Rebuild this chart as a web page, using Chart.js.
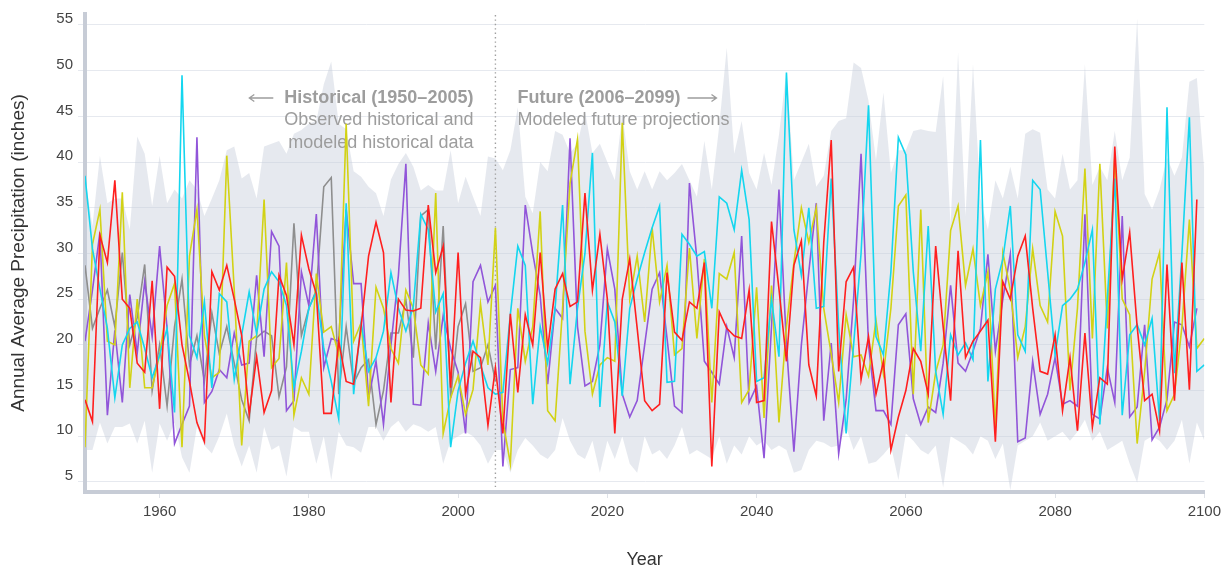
<!DOCTYPE html>
<html>
<head>
<meta charset="utf-8">
<script src="https://cdn.jsdelivr.net/npm/chart.js@4/dist/chart.umd.min.js"></script>
<style>
  html, body { margin: 0; padding: 0; background: #fff; }
  #wrap { width: 1226px; height: 571px; position: relative; }
</style>
</head>
<body>
<div id="wrap"><canvas id="precipChart"></canvas></div>
<script>
// years 1950..2100
let years = Array.from({ length: 151 }, (_, i) => 1950 + i);
let xTicks = [1960, 1980, 2000, 2020, 2040, 2060, 2080, 2100];
let splitYear = 2005;

// model runs (inches)
let redModel = [
  14, 11.6, 32, 29, 38, 25, 24, 18, 17, 27,
  13, 28.5, 27.5, 20, 16, 11.5, 9.4, 28, 26, 28.7,
  25, 21, 12.4, 18.7, 12.6, 15, 27.6, 25.4, 20, 32,
  28.3, 25.6, 12.5, 12.5, 20.4, 16, 15.7, 22, 29.7, 33.4,
  30.1, 13.7, 25, 23.8, 23.7, 24, 35.3, 27.9, 30.8, 15.3,
  30.1, 14.6, 19.3, 18.6, 11.2, 17.5, 10.3, 23.4, 14.8, 23.3,
  20, 30.1, 19.6, 26.1, 27.8, 24.2, 24.7, 36.6, 26, 32.1,
  25, 10.3, 25, 29.4, 21.8, 13.9, 12.8, 13.5, 27.9, 21.4,
  20.5, 24.7, 24, 29, 6.7, 23.6, 21.8, 21, 20.7, 26,
  13.7, 13.9, 33.5, 26.1, 18.2, 28.7, 31.4, 17.8, 14.4, 31.2,
  42.4, 17.1, 26.9, 28.5, 16.2, 20.9, 14.6, 18.2, 8.5, 12.1,
  15, 19.6, 18.2, 14.6, 30.8, 22, 13.9, 30.3, 18.6, 20.4,
  21.5, 22.7, 9.4, 26.9, 25, 29.7, 31.9, 24, 17.1, 16.8,
  21.1, 12.8, 18.6, 10.6, 21.3, 11, 16.4, 15.7, 41.7, 27.2,
  32.3, 22, 13.9, 14.6, 10.6, 28.8, 13.9, 29, 15.1, 35.9
];
let yellowModel = [
  8.8, 31, 34.8, 20.4, 20, 36.7, 15.3, 25, 15.3, 15.3,
  18.9, 24.3, 26.7, 8.8, 29.7, 34.8, 21, 16.4, 17, 40.7,
  26, 9, 20.4, 21, 35.9, 17.5, 18.5, 29, 12.3, 16.4,
  14.6, 27.8, 21.4, 22, 18.9, 44.2, 20.4, 22.4, 13.3, 26.3,
  24, 19.6, 18, 26, 24, 17.8, 16.8, 36.6, 10.3, 14.2,
  16.6, 12.4, 15.1, 24.5, 17.8, 32.8, 11.7, 7, 24, 18.2,
  22, 34.6, 12.8, 11.7, 24, 37.7, 42.5, 21.5, 14.6, 17.8,
  18.6, 18.2, 44.3, 25, 29.7, 22.5, 32.8, 24.7, 28.7, 18.9,
  19.6, 30.6, 20.7, 29.4, 13.7, 27.8, 27.2, 30.1, 13.7, 15.1,
  26.3, 12, 26.5, 11.5, 22, 29, 35, 31.2, 35, 24,
  19, 13.7, 23.3, 18.7, 18.9, 16.6, 22.7, 16.8, 24, 35.2,
  36.4, 14.6, 34.8, 11.5, 17, 20, 32.5, 35.2, 26.5, 30.5,
  24.3, 28, 11, 30.1, 26, 18.6, 22, 30.5, 24.3, 22.5,
  34.6, 31.9, 15, 24, 39.3, 20.7, 39.8, 21.8, 40.6, 25,
  23.3, 9.2, 17, 27.2, 30.1, 12.8, 14.6, 22, 33.7, 19.6,
  20.7
];
let cyanModel = [
  38.5, 30.5, 26.1, 21.8, 14.2, 20, 21.8, 22.5, 19.6, 16.4,
  18.9, 21.8, 12.6, 49.5, 21, 18.6, 24.7, 15.3, 25.6, 24.7,
  16.2, 21.1, 25.8, 21.2, 26.1, 28, 26.9, 24.3, 15.3, 19.3,
  24, 25.8, 19.6, 16, 11.9, 35.5, 14.6, 22.5, 17.1, 18.6,
  21.5, 27.9, 24, 21.5, 24.2, 34.3, 32.6, 23.6, 25.6, 8.8,
  15, 18, 20.4, 17.8, 15.3, 14.6, 14.8, 23.3, 30.8, 28.7,
  13.5, 22, 18, 24, 35.3, 15.7, 24, 30, 41, 13.2,
  24.7, 22.5, 14.4, 24, 27.2, 30.1, 32.8, 35.2, 15.9, 16,
  32.1, 31, 29.7, 30.2, 24, 36.2, 35.5, 32.6, 39.1, 33.7,
  16, 16.4, 25, 18.7, 49.8, 32.6, 27.6, 35, 24, 24.2,
  38.2, 22, 10.3, 20, 30, 46.2, 20.9, 18.9, 28, 42.7,
  40.8, 28, 19.3, 33, 17.1, 12.4, 21.1, 18.9, 20.2, 18.4,
  42.4, 16, 26.1, 29.4, 35.2, 21.1, 19.3, 38, 37, 28,
  18.9, 24.3, 25, 26.1, 29, 32.6, 11.3, 25, 38.2, 12.3,
  21.1, 22.2, 20, 22.9, 11.7, 46, 16.9, 30, 44.9, 17.1,
  17.8
];
let purpleModel = [
  20.4, 26, 32.3, 12.3, 21.6, 13.7, 25.5, 19.1, 26.9, 20.9,
  30.8, 21.8, 9.2, 11.3, 13.3, 42.7, 13.7, 14.9, 17.3, 16.4,
  21.3, 17.8, 18, 27.6, 18.7, 32.4, 30.8, 12.8, 13.9, 28,
  24.3, 34.3, 17.5, 20.7, 20.4, 34.8, 26.7, 26.7, 14.2, 18.2,
  11.3, 20, 27.6, 39.8, 13.5, 13.4, 22.4, 17.1, 23.2, 19.6,
  17, 10.3, 26.9, 28.7, 24.7, 26.5, 6.7, 17.3, 17.5, 35.3,
  30, 25.4, 15.7, 24, 22.9, 42.6, 22, 15.5, 16, 20,
  30.5, 26.1, 14.6, 12.1, 13.9, 20, 26.1, 27.9, 20.7, 13.3,
  12.6, 37.7, 29.4, 18.2, 17, 15.7, 22, 18.6, 31.9, 13.7,
  15.5, 7.6, 22, 37, 20, 8.3, 20, 28, 35.5, 11.7,
  20.2, 8.1, 14, 25, 40.9, 20, 12.8, 12.8, 11.3, 22.2,
  23.4, 14.1, 11.3, 13.2, 12.6, 18, 26.5, 18, 17.1, 19.3,
  21.8, 29.9, 19.3, 25, 29.9, 9.4, 9.8, 18.2, 12.4, 14.6,
  18.6, 13.5, 13.9, 13.3, 34.3, 12.4, 11.9, 17.5, 13.7, 34.1,
  12.1, 13.2, 22.2, 9.6, 11, 14, 22.5, 22.2, 19.8, 24
];
// observed, 1950..2005
let observed = [
  28.7, 21.8, 24, 26, 22, 30.1, 20, 23, 28.8, 15,
  20, 13.3, 22, 27.2, 17.8, 21, 16, 23.5, 19, 22,
  18, 14, 11.7, 20.8, 21.5, 21, 14.3, 17.6, 33.3, 21,
  24, 26, 37.3, 38.3, 14.6, 22, 15.8, 17.5, 18.4, 11.3,
  15, 21.3, 21.3, 24.9, 18.6, 34.1, 34.8, 19.5, 33, 14.2,
  22, 24.5, 17.1, 17.5, 20, 16
];
// range of all models
let rangeHigh = [
  38.4, 33, 40.7, 35.5, 36, 36, 32.6, 42.8, 40.9, 35.2,
  40.7, 35.5, 37, 36, 38, 37, 34.1, 36, 38, 41.3,
  41.7, 38.2, 38.8, 36, 41.7, 42, 42.3, 40.9, 43.1, 43.5,
  44.2, 44.5, 48.5, 51, 44.2, 43.6, 39, 38.4, 37.3, 36.6,
  34.1, 38.1, 39.8, 41, 39.5, 36.9, 37.5, 36.9, 36.9, 41.3,
  35.5, 38.4, 36.2, 34.1, 40.6, 40.4, 39.1, 41.3, 46, 36.2,
  34.4, 40, 39, 43.4, 43, 41, 42, 45.6, 41, 42,
  40, 38, 45.3, 39, 37, 39, 37, 39, 38, 38.8,
  39.8, 38, 36.2, 42.3, 37, 44, 52.5, 40.9, 44.5, 38.8,
  37, 41, 37.5, 43, 50, 38, 40, 42, 37.3, 38.5,
  43.4, 44.5, 44.8, 50.9, 50.3, 46.7, 40.2, 47.6, 38.8, 41.3,
  41.3, 43.4, 43.6, 43.4, 43.3, 49.4, 33, 52, 34.1, 50.7,
  36, 32.6, 38, 36, 39.5, 36, 43.1, 43.6, 43.2, 37,
  36, 40.9, 37, 38, 50.7, 37.5, 39.5, 38, 43.4, 38,
  40.5, 55.7, 36.5, 34.8, 37, 40.5, 38.5, 40.5, 48.8, 49.2,
  39
];
let rangeLow = [
  8.5, 8.5, 11.5, 9.2, 11, 11, 11.4, 9.2, 11.7, 6,
  11.4, 9.5, 11.5, 7.7, 6, 11, 9, 8.1, 10, 12.5,
  9, 6.7, 9, 6, 11, 8.5, 9, 5.6, 11, 10.5,
  10.5, 7, 10, 5.2, 10.5, 9, 8.8, 8.2, 11, 11,
  9.5, 11, 11.7, 10.5, 11.3, 11, 10.5, 11, 7, 9.5,
  10, 10.5, 10, 9, 7, 8.5, 8.5, 6, 8.5, 9.8,
  9, 8, 7.5, 8.5, 12, 9.5, 8, 7.5, 9.5, 6,
  9.5, 7.5, 10, 7, 6, 10, 8, 8.5, 7.5, 9,
  11, 8, 8.5, 8, 7.5, 10, 7, 9, 8, 10,
  9, 9.5, 8.5, 9, 8.5, 6, 6.3, 8.5, 9.5, 9.3,
  8.8, 9, 11, 8.5, 10, 7, 7.2, 8, 9, 5.2,
  10.3, 9.5, 8.5, 8, 9, 4.4, 10, 9.5, 9, 8,
  10, 9.5, 7.5, 9.2, 4.1, 9, 9.5, 10, 11.5, 9.5,
  10, 10.5, 9.5, 10.5, 11.8, 9.5, 10.5, 8.5, 9, 9.5,
  7, 4.9, 9.5, 10, 9.5, 8.5, 9.5, 11.8, 7, 11.5,
  9.5
];

let fontFamily = '"Liberation Sans", Helvetica, Arial, sans-serif';
let noteColor = '#9d9d9d';

function toPoints(values) {
  return values.map((v, i) => ({ x: years[i], y: v }));
}

function lineSet(label, values, color, order) {
  return {
    label: label,
    data: toPoints(values),
    borderColor: color,
    borderWidth: 1.6,
    pointRadius: 0,
    tension: 0,
    fill: false,
    order: order
  };
}

function drawArrow(ctx, x1, x2, y) {
  let dir = x2 > x1 ? 1 : -1;
  ctx.beginPath();
  ctx.moveTo(x1, y);
  ctx.lineTo(x2, y);
  ctx.moveTo(x2 - dir * 5, y - 3.5);
  ctx.lineTo(x2, y);
  ctx.lineTo(x2 - dir * 5, y + 3.5);
  ctx.stroke();
}

// dotted split line + the two period notes, drawn right after the range band
const periodNotes = {
  id: 'periodNotes',
  afterDatasetDraw(chart, args) {
    if (args.index !== 0) return;
    const { ctx, chartArea, scales } = chart;
    const xs = scales.x.getPixelForValue(splitYear);
    const top = chartArea.top;

    ctx.save();
    ctx.strokeStyle = '#a0a0a0';
    ctx.lineWidth = 1.4;
    ctx.setLineDash([1.4, 3]);
    ctx.beginPath();
    ctx.moveTo(xs, top + 1);
    ctx.lineTo(xs, chartArea.bottom - 5);
    ctx.stroke();
    ctx.setLineDash([]);

    ctx.fillStyle = noteColor;
    ctx.strokeStyle = noteColor;
    ctx.lineWidth = 1.3;
    ctx.textBaseline = 'middle';

    // left note
    let rx = xs - 22;
    ctx.textAlign = 'right';
    ctx.font = 'bold 18px ' + fontFamily;
    ctx.fillText('Historical (1950–2005)', rx, top + 84);
    let w = ctx.measureText('Historical (1950–2005)').width;
    drawArrow(ctx, rx - w - 11, rx - w - 35, top + 84);
    ctx.font = '18px ' + fontFamily;
    ctx.fillText('Observed historical and', rx, top + 106);
    ctx.fillText('modeled historical data', rx, top + 129);

    // right note
    let lx = xs + 22;
    ctx.textAlign = 'left';
    ctx.font = 'bold 18px ' + fontFamily;
    ctx.fillText('Future (2006–2099)', lx, top + 84);
    w = ctx.measureText('Future (2006–2099)').width;
    drawArrow(ctx, lx + w + 7, lx + w + 36, top + 84);
    ctx.font = '18px ' + fontFamily;
    ctx.fillText('Modeled future projections', lx, top + 106);
    ctx.restore();
  }
};

let ctx = document.getElementById('precipChart').getContext('2d');

const precipChart = new Chart(ctx,
  {
    type: 'line',
    data:
    {
      datasets:
        [
          {
            label: 'Range high',
            data: toPoints(rangeHigh),
            borderWidth: 0,
            pointRadius: 0,
            backgroundColor: 'rgba(200,206,220,0.45)',
            fill: '+1',
            order: 20
          },
          {
            label: 'Range low',
            data: toPoints(rangeLow),
            borderWidth: 0,
            pointRadius: 0,
            fill: false,
            order: 21
          },
          lineSet('Model A', redModel, '#ff1f1f', 1),
          lineSet('Model B', cyanModel, '#14d6ef', 2),
          lineSet('Model C', yellowModel, '#d2d214', 3),
          lineSet('Model D', purpleModel, '#9155d9', 4),
          lineSet('Observed', observed, '#8e8e8e', 5)
        ]
    },
    options:
    {
      responsive: true,
      maintainAspectRatio: false,
      animation: false,
      layout:
      {
        padding: { top: 9, right: 19, left: 0, bottom: 0 }
      },
      plugins:
      {
        legend: { display: false },
        tooltip: { enabled: false }
      },
      scales:
      {
        x:
        {
          type: 'linear',
          min: 1950,
          max: 2100,
          afterBuildTicks: (scale) => {
            scale.ticks = xTicks.map(v => ({ value: v }));
          },
          afterFit: (scale) => { scale.height = 79; },
          border: { color: '#c7ccd6', width: 4 },
          grid:
          {
            drawOnChartArea: false,
            tickColor: '#dfe2e8',
            tickLength: 6
          },
          ticks:
          {
            color: '#444',
            padding: 5,
            autoSkip: false,
            maxRotation: 0,
            font: { family: fontFamily, size: 15 },
            callback: (value) => String(value)
          },
          title:
          {
            display: true,
            text: 'Year',
            color: '#333',
            padding: { top: 0, bottom: 0 },
            font: { family: fontFamily, size: 18 }
          }
        },
        y:
        {
          min: 3.9,
          max: 56.2,
          afterFit: (scale) => { scale.width = 85; },
          border: { color: '#c7ccd6', width: 4 },
          grid:
          {
            color: '#e6e9ef',
            tickColor: '#e6e9ef',
            tickLength: 7,
            lineWidth: 1
          },
          ticks:
          {
            stepSize: 5,
            includeBounds: false,
            color: '#444',
            padding: 5,
            labelOffset: -6,
            font: { family: fontFamily, size: 15 }
          },
          title:
          {
            display: true,
            text: 'Annual Average Precipitation (inches)',
            color: '#333',
            padding: { top: 7, bottom: 7 },
            font: { family: fontFamily, size: 19 }
          }
        }
      }
    },
    plugins: [periodNotes]
  })
</script>
</body>
</html>
